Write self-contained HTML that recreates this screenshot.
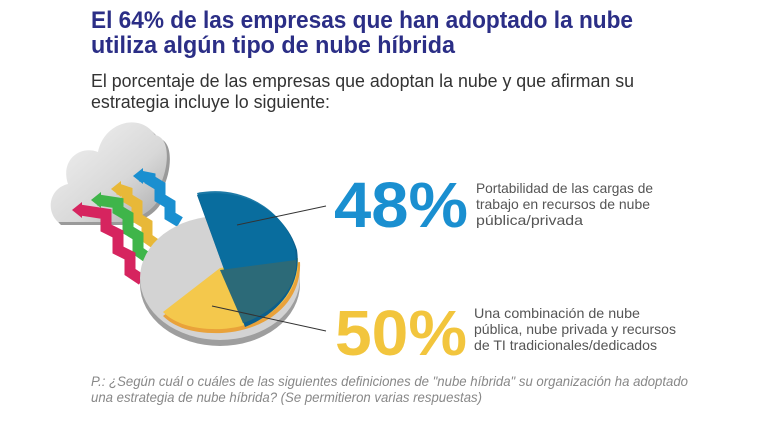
<!DOCTYPE html>
<html><head><meta charset="utf-8"><style>
html,body{margin:0;padding:0;background:#fff;width:762px;height:426px;overflow:hidden}
svg{display:block}
</style></head><body>
<svg width="762" height="426" viewBox="0 0 762 426" xmlns="http://www.w3.org/2000/svg" font-family="Liberation Sans, sans-serif">
<defs>
<linearGradient id="cg" x1="0" y1="0" x2="1" y2="1"><stop offset="0" stop-color="#f4f4f4"/><stop offset="0.6" stop-color="#d8d8d8"/><stop offset="1" stop-color="#a9a9a9"/></linearGradient>
</defs>
<text x="91" y="28" font-size="24" font-weight="bold" fill="#2b2e86" textLength="542" lengthAdjust="spacingAndGlyphs">El 64% de las empresas que han adoptado la nube</text>
<text x="91" y="53" font-size="24" font-weight="bold" fill="#2b2e86" textLength="364" lengthAdjust="spacingAndGlyphs">utiliza algún tipo de nube híbrida</text>
<text x="91" y="87" font-size="18" fill="#333" textLength="543" lengthAdjust="spacingAndGlyphs">El porcentaje de las empresas que adoptan la nube y que afirman su</text>
<text x="91" y="108" font-size="18" fill="#333" textLength="239" lengthAdjust="spacingAndGlyphs">estrategia incluye lo siguiente:</text>

<g>
<path d="M58,222 C45,210 50,188 68,184 C60,160 80,145 98,152 C104,122 140,112 155,135 C172,138 168,170 160,185 C165,205 140,220 120,222 Z" fill="#9a9a9a" transform="translate(3,3)"/>
<path d="M58,222 C45,210 50,188 68,184 C60,160 80,145 98,152 C104,122 140,112 155,135 C172,138 168,170 160,185 C165,205 140,220 120,222 Z" fill="url(#cg)"/>
</g>
<g fill="none" stroke-width="11" stroke-linejoin="miter">
<polyline points="180,222 170,216 170,204 160,198 160,186 150,180 150,178 140,176" stroke="#1a8fd0"/>
<polygon points="133,176 143,168 143,184" fill="#1a8fd0" stroke="none"/>
<polyline points="157,245 147,238 147,224 137,218 137,204 127,198 127,192 118,189" stroke="#e8b838"/>
<polygon points="111,189 121,181 121,197" fill="#e8b838" stroke="none"/>
<polyline points="148,258 138,251 138,236 128,230 128,216 118,210 118,203 98,200" stroke="#3fb54a"/>
<polygon points="91,200 101,192 101,208" fill="#3fb54a" stroke="none"/>
<polyline points="142,280 130,272 130,256 118,250 118,234 106,228 106,214 80,210" stroke="#d6245f"/>
<polygon points="72,210 82,202 82,218" fill="#d6245f" stroke="none"/>
</g>
<ellipse cx="220" cy="284" rx="80" ry="62" fill="#9e9e9e"/>
<ellipse cx="220" cy="278" rx="80" ry="62" fill="#d3d3d3"/>
<path d="M163,316 L220,272 L300,262 C302,300 270,330 222,333 C195,334 175,328 163,316 Z" fill="#e9a23a"/>
<path d="M163,312 L220,268 L298,258 C300,296 268,326 222,329 C195,330 175,324 163,312 Z" fill="#f4c84c"/>
<path d="M197,195 C240,186 285,210 297,250 C302,285 280,313 245,327 Z" fill="#0c5f8c"/>
<path d="M197,193 C240,184 283,208 295,248 C300,283 278,311 243,323 Z" fill="#0a6f9f" opacity="0.92"/>
<path d="M220,270 L296,260 C298,288 275,312 243,323 Z" fill="#2c6a78"/>
<line x1="237" y1="225" x2="326" y2="206" stroke="#333" stroke-width="1"/>
<line x1="212" y1="306" x2="326" y2="331" stroke="#333" stroke-width="1"/>

<text x="334" y="227" font-size="64" font-weight="bold" fill="#1a8fd0" textLength="134" lengthAdjust="spacingAndGlyphs">48%</text>
<text x="335" y="355" font-size="64" font-weight="bold" fill="#f2c53d" textLength="132" lengthAdjust="spacingAndGlyphs">50%</text>
<g font-size="14" fill="#555">
<text x="476" y="193" textLength="177" lengthAdjust="spacingAndGlyphs">Portabilidad de las cargas de</text>
<text x="476" y="209" textLength="174" lengthAdjust="spacingAndGlyphs">trabajo en recursos de nube</text>
<text x="476" y="225" textLength="107" lengthAdjust="spacingAndGlyphs">pública/privada</text>
<text x="474" y="318" textLength="166" lengthAdjust="spacingAndGlyphs">Una combinación de nube</text>
<text x="474" y="334" textLength="202" lengthAdjust="spacingAndGlyphs">pública, nube privada y recursos</text>
<text x="474" y="350" textLength="183" lengthAdjust="spacingAndGlyphs">de TI tradicionales/dedicados</text>
</g>
<g font-size="14" fill="#888" font-style="italic">
<text x="91" y="386" textLength="597" lengthAdjust="spacingAndGlyphs">P.: ¿Según cuál o cuáles de las siguientes definiciones de "nube híbrida" su organización ha adoptado</text>
<text x="91" y="402" textLength="391" lengthAdjust="spacingAndGlyphs">una estrategia de nube híbrida? (Se permitieron varias respuestas)</text>
</g>
</svg>
</body></html>
